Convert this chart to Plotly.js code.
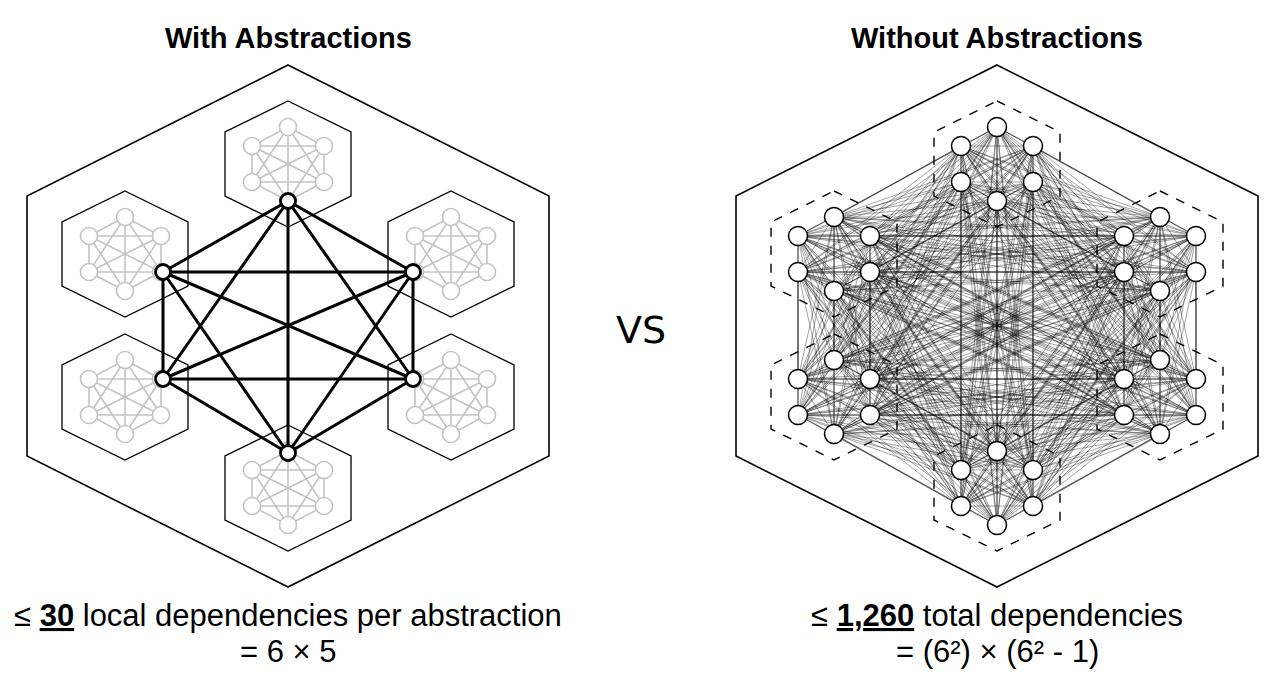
<!DOCTYPE html>
<html><head><meta charset="utf-8">
<script src="https://cdn.plot.ly/plotly-3.0.1.min.js"></script>
<style>html,body{margin:0;padding:0;background:#fff}#chart{width:1287px;height:691px}</style>
</head><body><div id="chart"></div>
<script>
// group centres (pixel space), big hexagon centres
const leftCentre = [288, 326];
const rightCentre = [997, 326];
const groupOffsets = [[0, -162], [-163, -72], [163, -72], [-163, 71], [163, 71], [0, 162]];
const nodeOffsets = [[0, -37], [-36, -18], [36, -18], [-36, 18], [36, 18], [0, 37]];
const abstractionOffsets = [[0, -125], [-125, -54], [125, -54], [-125, 53], [125, 53], [0, 127]];
const bigHex = [261, 130];   // half-height, side-vertex y
const smallHex = [63, 32];
const titles = ['With Abstractions', 'Without Abstractions'];
const footers = [['≤ <b><u>30</u></b> local dependencies per abstraction', '= 6 × 5'],
                 ['≤ <b><u>1,260</u></b> total dependencies', '= (6²) × (6² - 1)']];

function hexPath(cx, cy, R, s) {
  // horizontal half-width equals R (image is stretched)
  return `M${cx},${cy - R} L${cx + R},${cy - s} L${cx + R},${cy + s} L${cx},${cy + R} L${cx - R},${cy + s} L${cx - R},${cy - s} Z`;
}
function complete(pts) {
  const x = [], y = [];
  for (let i = 0; i < pts.length; i++)
    for (let j = i + 1; j < pts.length; j++) {
      x.push(pts[i][0], pts[j][0], null); y.push(pts[i][1], pts[j][1], null);
    }
  return {x, y};
}

const shapes = [], traces = [];
shapes.push({type: 'path', path: hexPath(leftCentre[0], leftCentre[1], bigHex[0], bigHex[1]), line: {color: '#000', width: 1.6}});
shapes.push({type: 'path', path: hexPath(rightCentre[0], rightCentre[1], bigHex[0], bigHex[1]), line: {color: '#000', width: 1.6}});

// left: small hexagons with gray K6
groupOffsets.forEach(g => {
  const cx = leftCentre[0] + g[0], cy = leftCentre[1] + g[1];
  shapes.push({type: 'path', path: hexPath(cx, cy, smallHex[0], smallHex[1]), line: {color: '#000', width: 1.3}, fillcolor: '#fff', layer: 'below'});
  const pts = nodeOffsets.map(o => [cx + o[0], cy + o[1]]);
  const e = complete(pts);
  traces.push({x: e.x, y: e.y, mode: 'lines', line: {color: '#c4c4c4', width: 1.6}, hoverinfo: 'skip'});
  traces.push({x: pts.map(p => p[0]), y: pts.map(p => p[1]), mode: 'markers',
    marker: {size: 17, color: '#fff', line: {color: '#c4c4c4', width: 1.6}}, hoverinfo: 'skip'});
});
// left: abstraction K6
const abs = abstractionOffsets.map(o => [leftCentre[0] + o[0], leftCentre[1] + o[1]]);
const ae = complete(abs);
traces.push({x: ae.x, y: ae.y, mode: 'lines', line: {color: '#000', width: 3}, hoverinfo: 'skip'});
traces.push({x: abs.map(p => p[0]), y: abs.map(p => p[1]), mode: 'markers',
  marker: {size: 15, color: '#fff', line: {color: '#000', width: 2.8}}, hoverinfo: 'skip'});

// right: dashed hexagons, K36
const all = [];
groupOffsets.forEach(g => {
  const cx = rightCentre[0] + g[0], cy = rightCentre[1] + g[1];
  shapes.push({type: 'path', path: hexPath(cx, cy, smallHex[0], smallHex[1]), line: {color: '#000', width: 1.4, dash: 'dash'}, layer: 'below'});
  nodeOffsets.forEach(o => all.push([cx + o[0], cy + o[1]]));
});
const re = complete(all);
traces.push({x: re.x, y: re.y, mode: 'lines', line: {color: 'rgba(0,0,0,0.6)', width: 0.6}, hoverinfo: 'skip'});
traces.push({x: all.map(p => p[0]), y: all.map(p => p[1]), mode: 'markers',
  marker: {size: 19, color: '#fff', line: {color: '#000', width: 1.5}}, hoverinfo: 'skip'});

const font = {family: 'Liberation Sans, Arial, sans-serif', color: '#000'};
const annotations = [];
[leftCentre, rightCentre].forEach((c, i) => {
  annotations.push({x: c[0], y: 38, text: '<b>' + titles[i] + '</b>', showarrow: false, font: {...font, size: 29}});
  annotations.push({x: c[0], y: 615, text: footers[i][0], showarrow: false, font: {...font, size: 31}});
  annotations.push({x: c[0], y: 651, text: footers[i][1], showarrow: false, font: {...font, size: 31}});
});
annotations.push({x: 641, y: 330, text: 'VS', showarrow: false, font: {family: 'DejaVu Sans, sans-serif', size: 38, color: '#000'}});

Plotly.newPlot('chart', traces, {
  width: 1287, height: 691, margin: {l: 0, r: 0, t: 0, b: 0},
  paper_bgcolor: '#fff', plot_bgcolor: '#fff', showlegend: false,
  xaxis: {range: [0, 1287], visible: false, fixedrange: true},
  yaxis: {range: [691, 0], visible: false, fixedrange: true},
  shapes, annotations
}, {displayModeBar: false, staticPlot: true});
</script></body></html>
